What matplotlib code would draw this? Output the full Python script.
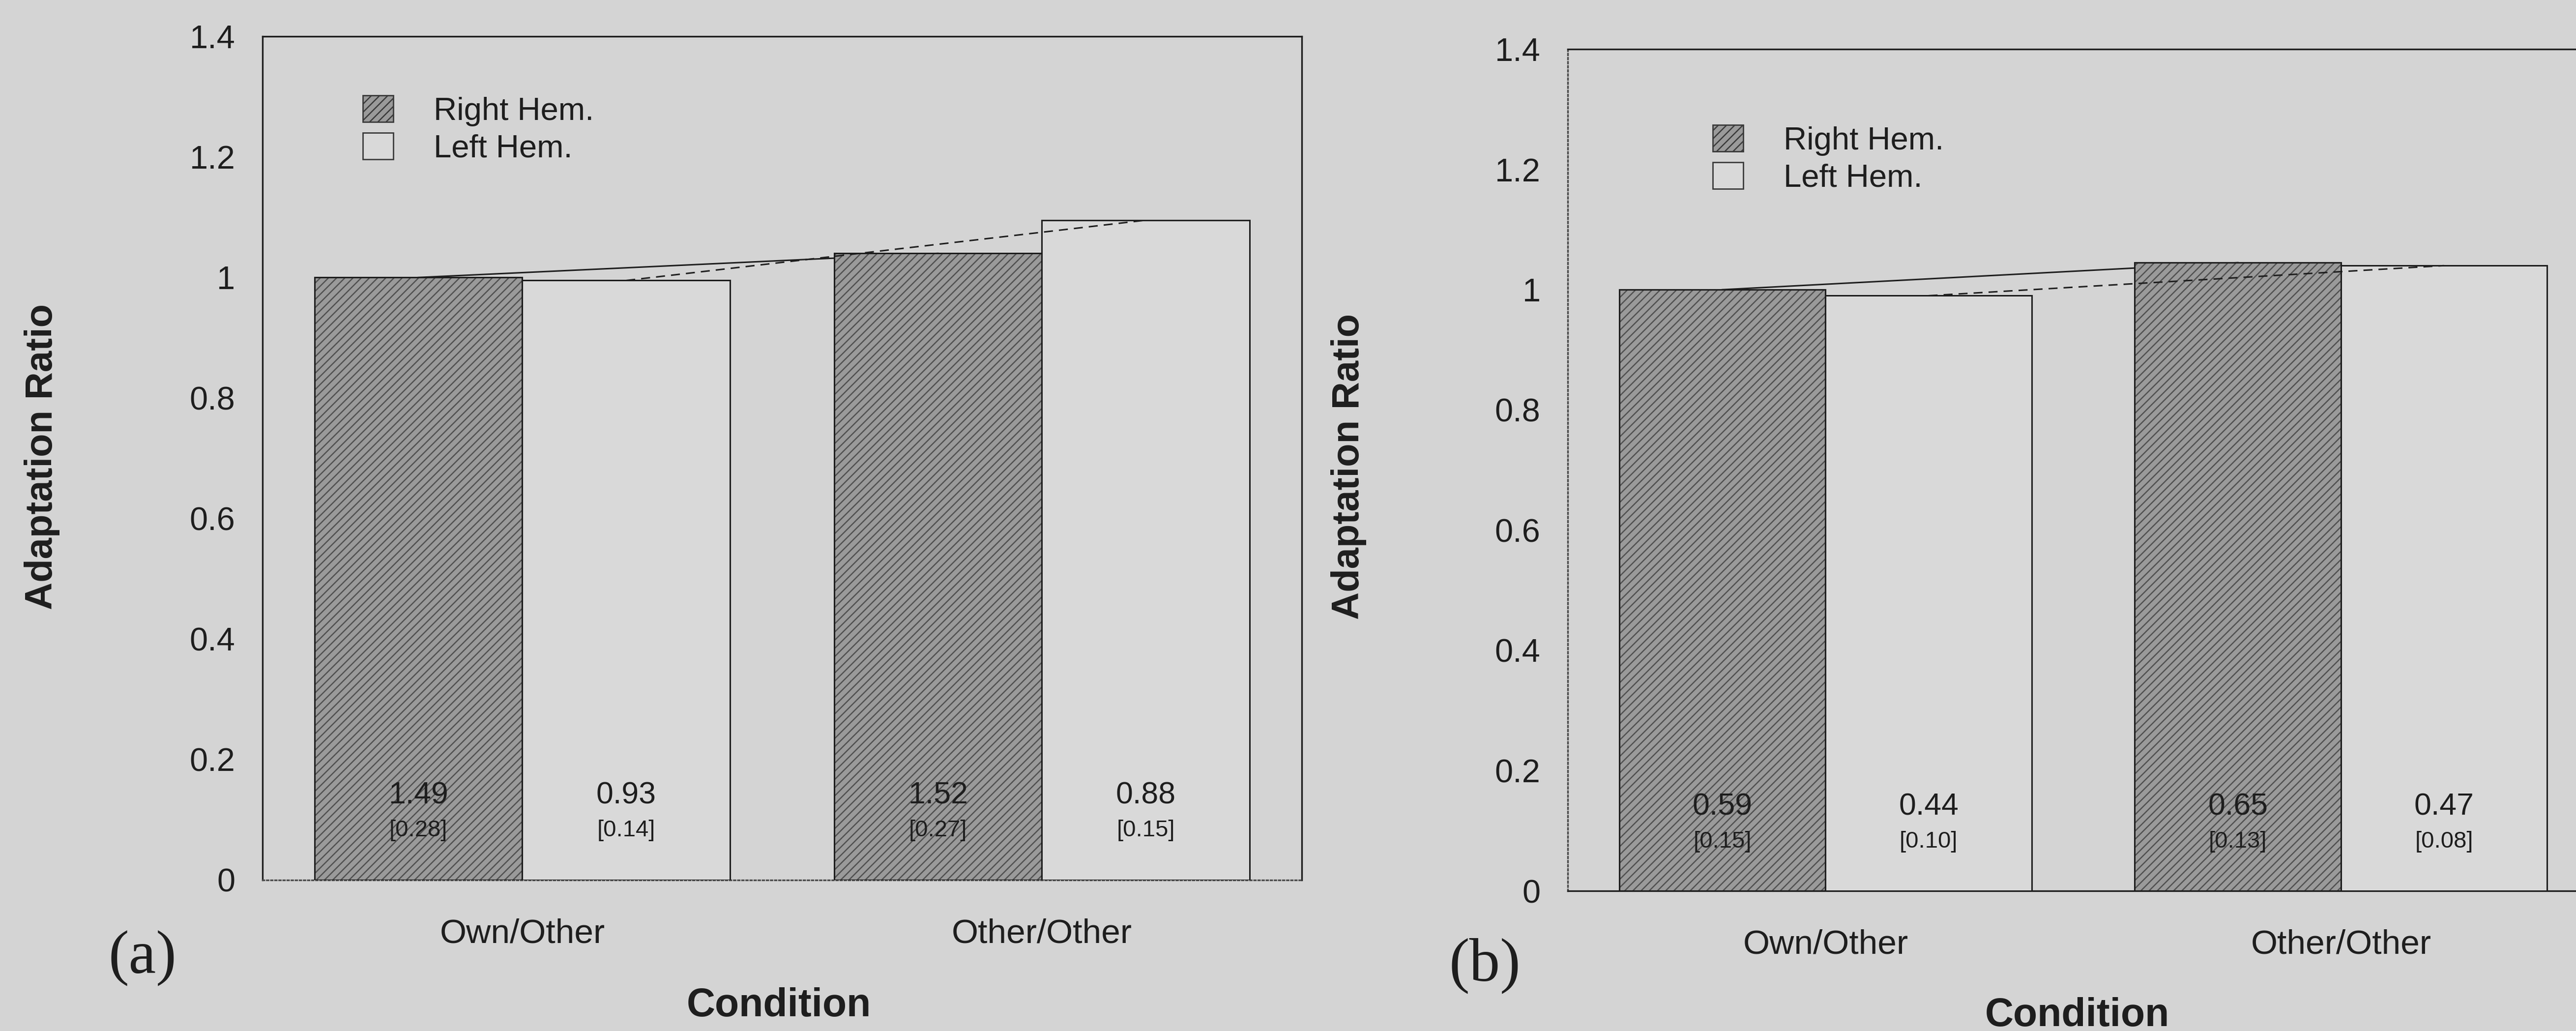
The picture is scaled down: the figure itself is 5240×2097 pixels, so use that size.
import matplotlib
matplotlib.use("Agg")
import matplotlib.pyplot as plt
from matplotlib.patches import Patch

plt.rcParams['font.family'] = ['Liberation Sans', 'DejaVu Sans']
plt.rcParams['hatch.linewidth'] = 1.8

# data
conditions = ['Own/Other', 'Other/Other']
hemispheres = ['Right Hem.', 'Left Hem.']

ratio_right_a = [1.00, 1.04]
ratio_left_a = [0.995, 1.095]
ratio_right_b = [1.00, 1.045]
ratio_left_b = [0.99, 1.04]

mean_right_a = ['1.49', '1.52']
sd_right_a = ['[0.28]', '[0.27]']
mean_left_a = ['0.93', '0.88']
sd_left_a = ['[0.14]', '[0.15]']

mean_right_b = ['0.59', '0.65']
sd_right_b = ['[0.15]', '[0.13]']
mean_left_b = ['0.44', '0.47']
sd_left_b = ['[0.10]', '[0.08]']

yticks = [0, 0.2, 0.4, 0.6, 0.8, 1, 1.2, 1.4]
ytick_labels = ['0', '0.2', '0.4', '0.6', '0.8', '1', '1.2', '1.4']

BG = '#d4d4d4'
DARK = '#9a9a9a'
HATCH = '#505050'
LIGHT = '#d9d9d9'
INK = '#1e1e1e'

fig = plt.figure(figsize=(52.4, 20.97), dpi=100, facecolor=BG)


def panel(ax, right, left, mr, sr, ml, sl, legend_xy, dotted=None):
    ax.set_facecolor('none')
    x = range(len(conditions))
    xr = [i - 0.2 for i in x]
    xl = [i + 0.2 for i in x]
    w = 0.4
    # hatched fill then outline on top
    ax.bar(xr, right, w, color=DARK, hatch='//', edgecolor=HATCH, linewidth=0, zorder=2)
    ax.bar(xr, right, w, fill=False, edgecolor=INK, linewidth=2.2, zorder=3)
    ax.bar(xl, left, w, color=LIGHT, edgecolor=INK, linewidth=2.2, zorder=3)

    # connecting lines
    ax.plot(xr, right, color=INK, lw=2.2, ls='-', zorder=1)
    ax.plot(xl, left, color=INK, lw=2.2, ls=(0, (6, 4)), zorder=4)

    for i in x:
        ax.text(xr[i], 0.14, mr[i], ha='center', va='center', fontsize=45, color=INK, zorder=5)
        ax.text(xr[i], 0.082, sr[i], ha='center', va='center', fontsize=34, color=INK, zorder=5)
        ax.text(xl[i], 0.14, ml[i], ha='center', va='center', fontsize=45, color=INK, zorder=5)
        ax.text(xl[i], 0.082, sl[i], ha='center', va='center', fontsize=34, color=INK, zorder=5)

    ax.set_xlim(-0.5, 1.5)
    ax.set_ylim(0, 1.4)
    ax.set_yticks(yticks)
    ax.set_yticklabels(ytick_labels)
    ax.set_xticks(list(x))
    ax.set_xticklabels(conditions)
    ax.tick_params(axis='y', length=0, pad=40, labelsize=48, labelcolor=INK)
    ax.tick_params(axis='x', length=0, pad=56, labelsize=50, labelcolor=INK)
    for s in ax.spines.values():
        s.set_linewidth(2.4)
        s.set_color(INK)
    if dotted:
        ax.spines[dotted].set_linestyle((0, (1, 1.5)))
        ax.spines[dotted].set_color('#4a4a4a')

    handles = [
        Patch(facecolor=DARK, hatch='//', edgecolor='#3a3a3a', linewidth=2),
        Patch(facecolor=LIGHT, edgecolor='#3a3a3a', linewidth=2),
    ]
    ax.legend(handles, hemispheres, loc='upper left', bbox_to_anchor=legend_xy,
              frameon=False, fontsize=47, handlelength=0.95, handleheight=0.9,
              handletextpad=1.25, labelspacing=0.2, borderpad=0, borderaxespad=0,
              labelcolor=INK)


ax_a = fig.add_axes([0.1019, 0.1464, 0.4034, 0.8183])
panel(ax_a, ratio_right_a, ratio_left_a, mean_right_a, sd_right_a,
      mean_left_a, sd_left_a, (0.0965, 0.93), dotted='bottom')

ax_b = fig.add_axes([0.6086, 0.1359, 0.4002, 0.8164])
panel(ax_b, ratio_right_b, ratio_left_b, mean_right_b, sd_right_b,
      mean_left_b, sd_left_b, (0.1407, 0.91), dotted='left')

# axis titles and panel letters
fig.text(0.3023, 0.0243, 'Condition', ha='center', va='center', fontsize=58, fontweight='bold', color=INK)
fig.text(0.8063, 0.0148, 'Condition', ha='center', va='center', fontsize=58, fontweight='bold', color=INK)
fig.text(0.0164, 0.557, 'Adaptation Ratio', rotation=90, ha='center', va='center', fontsize=56, fontweight='bold', color=INK)
fig.text(0.5235, 0.5475, 'Adaptation Ratio', rotation=90, ha='center', va='center', fontsize=56, fontweight='bold', color=INK)
fig.text(0.0553, 0.0706, '(a)', ha='center', va='center', fontsize=90, family='Liberation Serif', color=INK)
fig.text(0.5765, 0.0634, '(b)', ha='center', va='center', fontsize=90, family='Liberation Serif', color=INK)

fig.savefig('out.png', dpi=100, facecolor=BG)
